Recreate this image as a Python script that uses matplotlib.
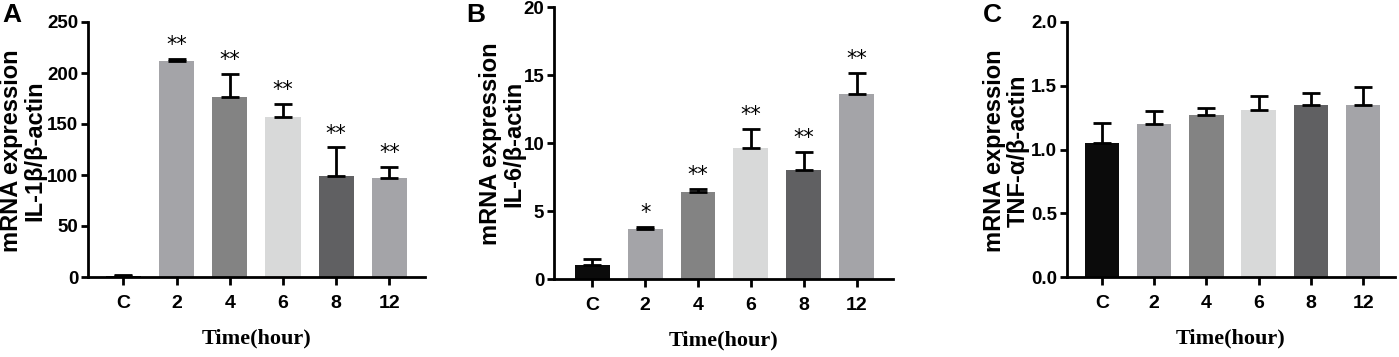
import matplotlib
matplotlib.use("Agg")
import matplotlib.pyplot as plt

plt.rcParams["font.family"] = ["Liberation Sans", "DejaVu Sans"]
plt.rcParams["font.weight"] = "bold"

groups = ["C", "2", "4", "6", "8", "12"]
colors = ["#0b0b0b", "#a4a4a8", "#838383", "#d8d9d9", "#606062", "#a4a4a8"]

il1b_mean = [1, 212, 176, 157, 99, 97]
il1b_err = [1, 2, 23, 13, 28, 11]
il1b_sig = ["", "**", "**", "**", "**", "**"]

il6_mean = [1.03, 3.65, 6.37, 9.63, 7.99, 13.58]
il6_err = [0.44, 0.17, 0.23, 1.37, 1.35, 1.59]
il6_sig = ["", "*", "**", "**", "**", "**"]

tnf_mean = [1.05, 1.20, 1.274, 1.306, 1.348, 1.348]
tnf_err = [0.16, 0.10, 0.051, 0.11, 0.097, 0.142]
tnf_sig = ["", "", "", "", "", ""]

W, H = 1399, 357
fig = plt.figure(figsize=(W / 100, H / 100), dpi=100)

panels = [
    # letter, ylabel, mean, err, sig, ymax, yticks, ticklabels, axes px box, xlim, ylabel x, letter x
    ("A", "mRNA expression\nIL-1β/β-actin", il1b_mean, il1b_err, il1b_sig, 250,
     [0, 50, 100, 150, 200, 250], None, (88, 425, 22, 277), (-0.667, 5.67), 23, 2),
    ("B", "mRNA expression\nIL-6/β-actin", il6_mean, il6_err, il6_sig, 20,
     [0, 5, 10, 15, 20], None, (554, 893, 7, 279), (-0.727, 5.69), 502, 466),
    ("C", "mRNA expression\nTNF-α/β-actin", tnf_mean, tnf_err, tnf_sig, 2.0,
     [0.0, 0.5, 1.0, 1.5, 2.0], ["0.0", "0.5", "1.0", "1.5", "2.0"],
     (1067, 1395, 22, 277), (-0.67, 5.61), 1006, 983),
]

for letter, ylab, mean, err, sig, ymax, yt, ytl, box, xl, ylx, lx in panels:
    l, r, t, b = box
    ax = fig.add_axes([l / W, (H - b) / H, (r - l) / W, (b - t) / H])
    x = list(range(len(groups)))
    ax.bar(x, mean, width=0.66, color=colors, zorder=2)
    ax.errorbar(x, mean, yerr=[[0] * len(mean), err], fmt="none",
                ecolor="black", elinewidth=2, capsize=6.5, capthick=2, zorder=3)
    for xi, m, e, s in zip(x, mean, err, sig):
        if s:
            ax.text(xi, m + e + ymax * 0.015, s, ha="center", va="bottom",
                    fontsize=15, fontweight="normal", family="DejaVu Sans")
    ax.set_xlim(*xl)
    ax.set_ylim(0, ymax)
    ax.set_xticks(x)
    ax.set_xticklabels(groups, fontsize=14, fontweight="bold")
    ax.set_yticks(yt)
    if ytl:
        ax.set_yticklabels(ytl)
    ax.tick_params(axis="y", labelsize=13.5, width=2, length=5, pad=2)
    ax.tick_params(axis="x", width=2, length=6, pad=7)
    for sp in ["top", "right"]:
        ax.spines[sp].set_visible(False)
    for sp in ["left", "bottom"]:
        ax.spines[sp].set_linewidth(2)
    ax.set_xlabel("Time(hour)", family="Liberation Serif", fontsize=16,
                  fontweight="bold", labelpad=12)
    fig.text(ylx / W, 1 - ((t + b) / 2 + 1) / H, ylab, rotation=90, ha="center",
             va="center", fontsize=17, fontweight="bold", linespacing=1.05)
    fig.text(lx / W, 1 - 3 / H, letter, ha="left", va="top", fontsize=19,
             fontweight="bold")

fig.savefig("out.png", dpi=100)
